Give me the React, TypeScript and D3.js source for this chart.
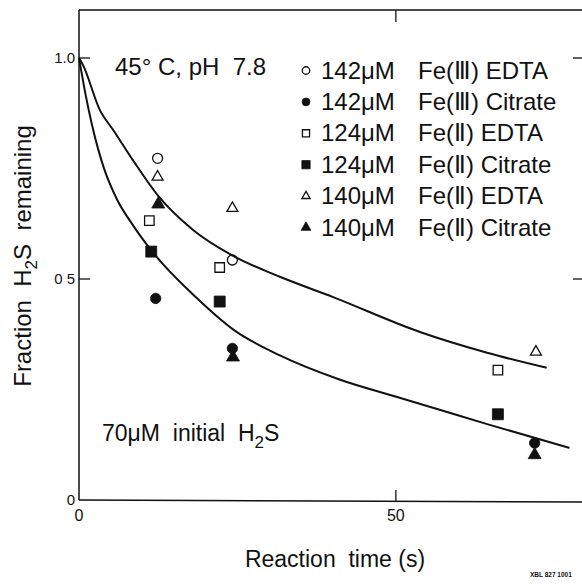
import React from "react";
import * as d3 from "d3";

// ---- data ----
const legendConc = ["142μM", "142μM", "124μM", "124μM", "140μM", "140μM"];
const legendSpecies = [
  "Fe(Ⅲ) EDTA",
  "Fe(Ⅲ) Citrate",
  "Fe(Ⅱ) EDTA",
  "Fe(Ⅱ) Citrate",
  "Fe(Ⅱ) EDTA",
  "Fe(Ⅱ) Citrate",
];
const markerKinds = ["circleOpen", "circleFilled", "squareOpen", "squareFilled", "triangleOpen", "triangleFilled"];

const fe3EdtaTime = [12.4, 24.2];
const fe3EdtaFrac = [0.773, 0.543];
const fe3CitrateTime = [12.1, 24.2, 71.9];
const fe3CitrateFrac = [0.456, 0.343, 0.129];
const fe2Edta124Time = [11.1, 22.2, 66.1];
const fe2Edta124Frac = [0.632, 0.526, 0.294];
const fe2Citrate124Time = [11.4, 22.2, 66.1];
const fe2Citrate124Frac = [0.562, 0.449, 0.194];
const fe2Edta140Time = [12.4, 24.2, 72.1];
const fe2Edta140Frac = [0.731, 0.66, 0.335];
const fe2Citrate140Time = [12.5, 24.3, 71.9];
const fe2Citrate140Frac = [0.669, 0.323, 0.102];

const upperCurveTime = [0, 0.6, 3.3, 5.4, 8.5, 12.5, 18.0, 24.1, 31.7, 40.1, 53.8, 64.4, 73.8];
const upperCurveFrac = [1.0, 0.985, 0.882, 0.837, 0.769, 0.688, 0.611, 0.554, 0.505, 0.459, 0.38, 0.333, 0.299];
const lowerCurveTime = [0, 1, 2, 3, 4, 6, 8.5, 11.5, 18.5, 24.3, 31.7, 41.2, 50.2, 56.9, 64.8, 77.4];
const lowerCurveFrac = [1.0, 0.92, 0.852, 0.795, 0.748, 0.68, 0.622, 0.563, 0.458, 0.386, 0.327, 0.272, 0.233, 0.204, 0.17, 0.118];

const xTicks = [0, 50];
const yTicks = [0, 0.5, 1.0];
const yTickLabels = ["0", "0 5", "1.0"];

const seriesTimes = [fe3EdtaTime, fe3CitrateTime, fe2Edta124Time, fe2Citrate124Time, fe2Edta140Time, fe2Citrate140Time];
const seriesFracs = [fe3EdtaFrac, fe3CitrateFrac, fe2Edta124Frac, fe2Citrate124Frac, fe2Edta140Frac, fe2Citrate140Frac];

// ---- layout ----
const W = 582;
const H = 587;
const FONT = "'Liberation Sans', Arial, sans-serif";
const INK = "#111";

const x = d3.scaleLinear().domain([0, 80]).range([79, 586]);
const y = d3.scaleLinear().domain([0, 1]).range([500, 58]);
const frameTop = 10;

function Marker({ kind, cx, cy, s }: { kind: string; cx: number; cy: number; s: number }) {
  const filled = kind.endsWith("Filled");
  let type = d3.symbolCircle;
  let area: number;
  if (kind.startsWith("square")) {
    type = d3.symbolSquare;
    const side = (filled ? 11 : 9.5) * s;
    area = side * side;
  } else if (kind.startsWith("triangle")) {
    type = d3.symbolTriangle;
    const side = (filled ? 13 : 11) * s;
    area = (Math.sqrt(3) / 4) * side * side;
  } else {
    const r = (filled ? 5.2 : 5) * s;
    area = Math.PI * r * r;
  }
  const d = d3.symbol().type(type).size(area)() as string;
  return (
    <path
      d={d}
      transform={`translate(${cx},${cy})`}
      fill={filled ? INK : "none"}
      stroke={INK}
      strokeWidth={filled ? 0.8 : 1.3}
    />
  );
}

export default function App() {
  const makePath = (ts: number[], vs: number[]) =>
    d3
      .line<number>()
      .x((t) => x(t))
      .y((_, i) => y(vs[i]))
      .curve(d3.curveMonotoneX)(ts) as string;

  const legendX = 306;
  const legendY0 = 78.5;
  const legendStep = 31.4;

  return (
    <svg
      width={W}
      height={H}
      style={{ position: "absolute", left: 0, top: 0, display: "block", background: "#fff" }}
      fontFamily={FONT}
    >
      <rect x={0} y={0} width={W} height={H} fill="#fff" />
      {/* frame */}
      <line x1={x(0)} y1={frameTop} x2={W} y2={frameTop} stroke={INK} strokeWidth={1.3} />
      <line x1={x(0)} y1={frameTop} x2={x(0)} y2={y(0)} stroke={INK} strokeWidth={1.5} />
      <line x1={x(0)} y1={y(0)} x2={W} y2={y(0) + 2} stroke={INK} strokeWidth={1.5} />

      {/* y ticks (inward, both sides) */}
      {yTicks.slice(1).map((t) => (
        <g key={"yt" + t}>
          <line x1={x(0)} y1={y(t)} x2={x(0) + 11} y2={y(t)} stroke={INK} strokeWidth={1.3} />
          <line x1={x(80) - 13} y1={y(t)} x2={x(80)} y2={y(t)} stroke={INK} strokeWidth={1.3} />
        </g>
      ))}
      {yTicks.map((t, i) => (
        <text key={"yl" + t} x={x(0) - 4} y={y(t)} dy="0.36em" textAnchor="end" fontSize={15} fill={INK} style={{ whiteSpace: "pre" }}>
          {yTickLabels[i]}
        </text>
      ))}

      {/* x ticks */}
      {xTicks.slice(1).map((t) => (
        <g key={"xt" + t}>
          <line x1={x(t)} y1={y(0) + 1} x2={x(t)} y2={y(0) - 10} stroke={INK} strokeWidth={1.3} />
          <line x1={x(t)} y1={frameTop} x2={x(t)} y2={frameTop + 12} stroke={INK} strokeWidth={1.3} />
        </g>
      ))}
      {xTicks.map((t) => (
        <text key={"xl" + t} x={x(t)} y={521} textAnchor="middle" fontSize={16} fill={INK}>
          {t}
        </text>
      ))}

      {/* fitted curves */}
      <path d={makePath(upperCurveTime, upperCurveFrac)} fill="none" stroke={INK} strokeWidth={2} />
      <path d={makePath(lowerCurveTime, lowerCurveFrac)} fill="none" stroke={INK} strokeWidth={2} />

      {/* data points */}
      {seriesTimes.map((ts, si) =>
        ts.map((t, j) => (
          <Marker key={`m${si}-${j}`} kind={markerKinds[si]} cx={x(t)} cy={y(seriesFracs[si][j])} s={1} />
        ))
      )}

      {/* annotations */}
      <text x={115} y={75} fontSize={24} fill={INK} style={{ whiteSpace: "pre" }}>
        {"45° C, pH  7.8"}
      </text>
      <text x={102} y={441} fontSize={23} fill={INK} style={{ whiteSpace: "pre" }}>
        {"70μM  initial  H"}
        <tspan fontSize={17} dy={7}>2</tspan>
        <tspan dy={-7}>S</tspan>
      </text>

      {/* legend */}
      {legendConc.map((c, i) => {
        const by = legendY0 + i * legendStep;
        return (
          <g key={"lg" + i}>
            <Marker kind={markerKinds[i]} cx={legendX} cy={by - 8} s={0.75} />
            <text x={321} y={by} fontSize={24} fill={INK}>
              {c}
            </text>
            <text x={418} y={by} fontSize={24} fill={INK}>
              {legendSpecies[i]}
            </text>
          </g>
        );
      })}

      {/* axis titles */}
      <text x={335} y={567} textAnchor="middle" fontSize={23} fill={INK} style={{ whiteSpace: "pre" }}>
        {"Reaction  time (s)"}
      </text>
      <text
        transform="translate(31,256) rotate(-90)"
        textAnchor="middle"
        fontSize={24}
        fill={INK}
        style={{ whiteSpace: "pre" }}
      >
        {"Fraction  H"}
        <tspan fontSize={17} dy={6}>2</tspan>
        <tspan dy={-6}>{"S  remaining"}</tspan>
      </text>

      <text x={530} y={577} fontSize={6.5} fontWeight="bold" fill={INK}>
        XBL 827 1001
      </text>
    </svg>
  );
}
